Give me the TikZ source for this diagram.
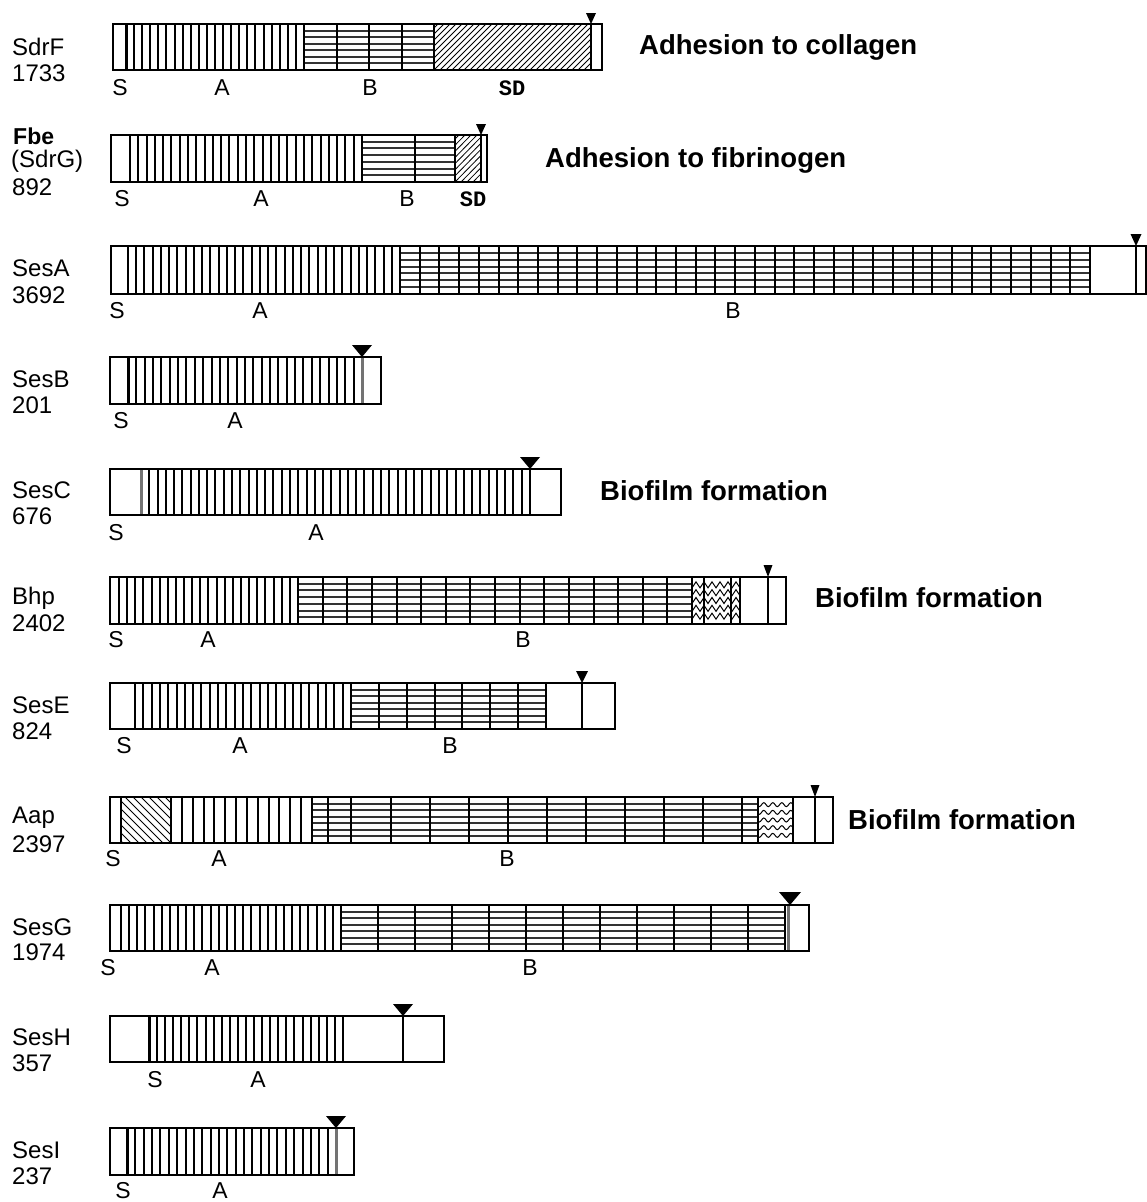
\documentclass[tikz,border=0pt]{standalone}
\usepackage{fontspec}
\setmainfont{Liberation Sans}
\newfontfamily\sdfont{Liberation Mono}
\usetikzlibrary{decorations.pathmorphing}
\tikzset{
  box/.style={draw=black, line width=2pt},
  stripe/.style={line width=2pt},
  gridh/.style={line width=2pt, draw=black!80},
  gridv/.style={line width=2pt},
  hatchline/.style={line width=0.8pt},
  lab/.style={font=\fontsize{23}{25}\selectfont, inner sep=0pt},
  pname/.style={font=\fontsize{24}{26}\selectfont, inner sep=0pt, anchor=west},
  ttl/.style={font=\bfseries\fontsize{27.5}{30}\selectfont, anchor=west, inner sep=0pt},
  sdlab/.style={font=\sdfont\bfseries\fontsize{22}{24}\selectfont, inner sep=0pt},
  thickS/.style={line width=3pt},
  grayS/.style={line width=3pt, draw=black!55},
}
% vertical stripes: x1 x2 ytop ybot n
\newcommand\vstr[5]{\foreach \k in {0,...,#5}{\pgfmathsetmacro\xx{round(#1+(#2-#1)/#5*\k)}\draw[stripe] (\xx,#3) -- (\xx,#4);}}
% horizontal grid: x1 x2 ytop ybot ncols nlines
\newcommand\hgrid[6]{\foreach \k in {1,...,#6}{\pgfmathsetmacro\yy{round(#3+(#4-#3)/(#6+1)*\k)}\draw[gridh] (#1,\yy) -- (#2,\yy);}%
  \foreach \k in {0,...,#5}{\pgfmathsetmacro\xx{round(#1+(#2-#1)/#5*\k)}\draw[gridv] (\xx,#3) -- (\xx,#4);}}
% hatch north east: x1 x2 ytop ybot
\newcommand\hatchne[4]{\begin{scope}\clip (#1,#3) rectangle (#2,#4);
  \foreach \d in {-60,-54,...,220}{\draw[hatchline] ({#1+(\d)},#4) -- ({#1+(\d)+46},#3);}\end{scope}}
% hatch north west
\newcommand\hatchnw[4]{\begin{scope}\clip (#1,#3) rectangle (#2,#4);
  \foreach \d in {-60,-52,...,120}{\draw[hatchline] ({#1+(\d)},#3) -- ({#1+(\d)+46},#4);}\end{scope}}
% zigzag fill
\newcommand\zig[5]{\begin{scope}\clip (#1,#3) rectangle (#2,#4);
  \foreach \k in {1,...,5}{\pgfmathsetmacro\yy{#3+(#4-#3)/6*\k}\draw[line width=1pt, decorate, decoration={#5}] ({#1-6},\yy) -- ({#2+6},\yy);}\end{scope}}
% triangle: x ytop width height
\newcommand\tri[4]{\fill ({#1-#3/2},{#2-#4}) -- ({#1+#3/2},{#2-#4}) -- (#1,#2) -- cycle;}
\begin{document}
\begin{tikzpicture}[x=1pt,y=-1pt]
\useasboundingbox[fill=white] (0,0) rectangle (1147,1202);

% ---------- SdrF ----------
\node[pname] (nSdrF) at (12,47) {SdrF};
\node[pname] (mSdrF) at (12,73) {1733};
\vstr{126}{304}{24}{70}{22}
\draw[thickS] (126,24) -- (126,70);
\hgrid{304}{434}{24}{70}{4}{6}
\hatchne{434}{591}{24}{70}
\draw[gridv] (591,24) -- (591,70);
\draw[box] (113,24) rectangle (602,70);
\tri{591}{24}{10}{11}
\node[lab] (sSdrF) at (120,88) {S};
\node[lab] (aSdrF) at (222,88) {A};
\node[lab] (bSdrF) at (370,88) {B};
\node[sdlab] (dSdrF) at (512,88) {SD};
\node[ttl] (tSdrF) at (639,47) {Adhesion to collagen};

% ---------- Fbe ----------
\node[pname,font=\bfseries\fontsize{23}{25}\selectfont] (nFbe) at (13,136) {Fbe};
\node[pname] (pFbe) at (11,161) {(SdrG)};
\node[pname] (mFbe) at (12,187) {892};
\vstr{130}{362}{135}{182}{28}
\hgrid{362}{455}{135}{182}{1}{6}
\draw[gridv] (415,135) -- (415,182);
\hatchne{455}{480}{135}{182}
\draw[gridv] (455,135) -- (455,182);
\draw[gridv] (481,135) -- (481,182);
\draw[box] (111,135) rectangle (487,182);
\tri{481}{135}{10}{11}
\node[lab] (sFbe) at (122,199) {S};
\node[lab] (aFbe) at (261,199) {A};
\node[lab] (bFbe) at (407,199) {B};
\node[sdlab] (dFbe) at (473,199) {SD};
\node[ttl] (tFbe) at (545,160) {Adhesion to fibrinogen};

% ---------- SesA ----------
\node[pname] (nSesA) at (12,268) {SesA};
\node[pname] (mSesA) at (12,295) {3692};
\vstr{128}{400}{246}{294}{33}
\hgrid{400}{1090}{246}{294}{35}{6}
\draw[gridv] (1136,246) -- (1136,294);
\draw[box] (111,246) rectangle (1146,294);
\tri{1136}{246}{11}{12}
\node[lab] (sSesA) at (117,311) {S};
\node[lab] (aSesA) at (260,311) {A};
\node[lab] (bSesA) at (733,311) {B};

% ---------- SesB ----------
\node[pname] (nSesB) at (12,379) {SesB};
\node[pname] (mSesB) at (12,405) {201};
\vstr{128}{362}{357}{404}{28}
\draw[thickS] (128,357) -- (128,404);
\draw[grayS] (362,357) -- (362,404);
\draw[box] (110,357) rectangle (381,404);
\tri{362}{357}{20}{12}
\node[lab] (sSesB) at (121,421) {S};
\node[lab] (aSesB) at (235,421) {A};

% ---------- SesC ----------
\node[pname] (nSesC) at (12,490) {SesC};
\node[pname] (mSesC) at (12,516) {676};
\vstr{141}{530}{469}{515}{47}
\draw[grayS] (141,469) -- (141,515);
\draw[box] (110,469) rectangle (561,515);
\tri{530}{469}{20}{12}
\node[lab] (sSesC) at (116,533) {S};
\node[lab] (aSesC) at (316,533) {A};
\node[ttl] (tSesC) at (600,491) {Biofilm formation};

% ---------- Bhp ----------
\node[pname] (nBhp) at (12,598) {Bhp};
\node[pname] (mBhp) at (12,623) {2402};
\vstr{119}{298}{577}{624}{22}
\hgrid{298}{692}{577}{624}{16}{6}
\zig{692}{740}{577}{624}{zigzag,segment length=8,amplitude=3}
\draw[stripe] (704,577) -- (704,624);
\draw[stripe] (731,577) -- (731,624);
\draw[gridv] (740,577) -- (740,624);
\draw[gridv] (768,577) -- (768,624);
\draw[box] (110,577) rectangle (786,624);
\tri{768}{577}{9}{12}
\node[lab] (sBhp) at (116,640) {S};
\node[lab] (aBhp) at (208,640) {A};
\node[lab] (bBhp) at (523,640) {B};
\node[ttl] (tBhp) at (815,598) {Biofilm formation};

% ---------- SesE ----------
\node[pname] (nSesE) at (12,705) {SesE};
\node[pname] (mSesE) at (12,731) {824};
\vstr{135}{351}{683}{729}{26}
\hgrid{351}{546}{683}{729}{7}{6}
\draw[gridv] (582,683) -- (582,729);
\draw[box] (110,683) rectangle (615,729);
\tri{582}{683}{12}{12}
\node[lab] (sSesE) at (124,746) {S};
\node[lab] (aSesE) at (240,746) {A};
\node[lab] (bSesE) at (450,746) {B};

% ---------- Aap ----------
\node[pname] (nAap) at (12,818) {Aap};
\node[pname] (mAap) at (12,844) {2397};
\hatchnw{121}{171}{797}{843}
\draw[stripe] (121,797) -- (121,843);
\vstr{171}{312}{797}{843}{13}
\hgrid{312}{758}{797}{843}{1}{6}
\foreach \xx in {328,351,391,430,469,508,547,586,625,664,703,742}{\draw[gridv] (\xx,797) -- (\xx,843);}
\zig{758}{793}{797}{843}{snake,segment length=9,amplitude=2}
\draw[gridv] (793,797) -- (793,843);
\draw[gridv] (815,797) -- (815,843);
\draw[box] (110,797) rectangle (833,843);
\tri{815}{797}{9}{12}
\node[lab] (sAap) at (113,859) {S};
\node[lab] (aAap) at (219,859) {A};
\node[lab] (bAap) at (507,859) {B};
\node[ttl] (tAap) at (848,820) {Biofilm formation};

% ---------- SesG ----------
\node[pname] (nSesG) at (12,927) {SesG};
\node[pname] (mSesG) at (12,952) {1974};
\vstr{121}{341}{905}{951}{27}
\hgrid{341}{785}{905}{951}{12}{6}
\draw[grayS] (788,905) -- (788,951);
\draw[box] (110,905) rectangle (809,951);
\tri{790}{905}{22}{13}
\node[lab] (sSesG) at (108,968) {S};
\node[lab] (aSesG) at (212,968) {A};
\node[lab] (bSesG) at (530,968) {B};

% ---------- SesH ----------
\node[pname] (nSesH) at (12,1037) {SesH};
\node[pname] (mSesH) at (12,1063) {357};
\vstr{149}{343}{1016}{1062}{24}
\draw[thickS] (149,1016) -- (149,1062);
\draw[gridv] (403,1016) -- (403,1062);
\draw[box] (110,1016) rectangle (444,1062);
\tri{403}{1016}{20}{12}
\node[lab] (sSesH) at (155,1080) {S};
\node[lab] (aSesH) at (258,1080) {A};

% ---------- SesI ----------
\node[pname] (nSesI) at (12,1150) {SesI};
\node[pname] (mSesI) at (12,1176) {237};
\vstr{127}{336}{1128}{1175}{25}
\draw[thickS] (127,1128) -- (127,1175);
\draw[grayS] (336,1128) -- (336,1175);
\draw[box] (110,1128) rectangle (354,1175);
\tri{336}{1128}{20}{12}
\node[lab] (sSesI) at (123,1191) {S};
\node[lab] (aSesI) at (220,1191) {A};
\end{tikzpicture}
\end{document}
